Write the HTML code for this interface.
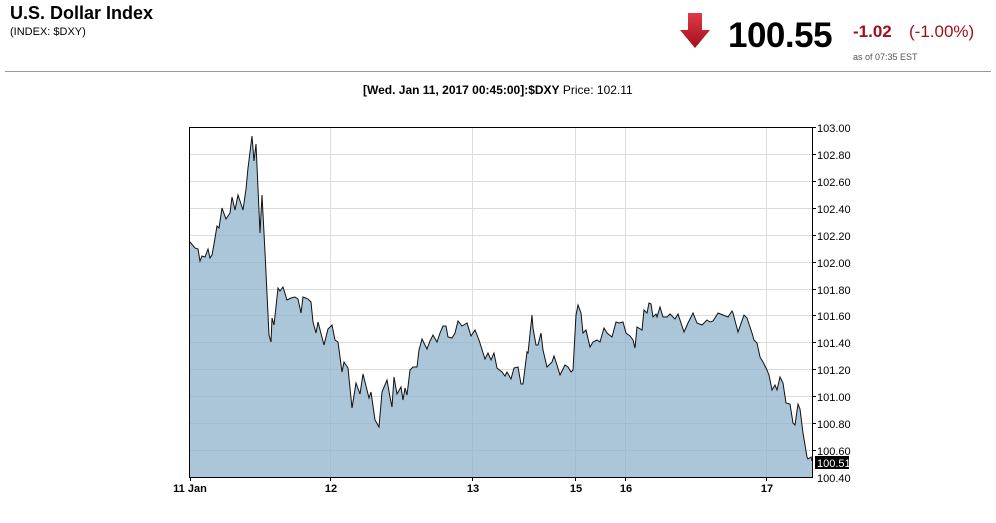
<!DOCTYPE html>
<html><head><meta charset="utf-8"><style>
body{margin:0;background:#fff;font-family:"Liberation Sans",Arial,sans-serif;width:996px;height:523px;overflow:hidden;position:relative}
.a{position:absolute;white-space:nowrap}
</style></head><body>
<div class="a" style="left:10px;top:3px;font-size:18px;font-weight:bold;color:#000">U.S. Dollar Index</div>
<div class="a" style="left:10px;top:26px;font-size:11px;color:#000">(INDEX: $DXY)</div>
<svg class="a" style="left:677px;top:10px" width="36" height="40"><defs><linearGradient id="g" x1="0" x2="0" y1="0" y2="1"><stop offset="0" stop-color="#e0394a"/><stop offset="1" stop-color="#a01018"/></linearGradient></defs><polygon points="11,3 25,3 25,20 33,20 18,38 3,20 11,20" fill="url(#g)"/></svg>
<div class="a" style="left:728px;top:16px;font-size:35px;font-weight:bold;color:#000;letter-spacing:-0.5px">100.55</div>
<div class="a" style="left:853px;top:22px;font-size:17px;font-weight:bold;color:#a0101c">-1.02</div>
<div class="a" style="left:909px;top:22px;font-size:17px;color:#a0101c">(-1.00%)</div>
<div class="a" style="left:853px;top:52px;font-size:9px;color:#555">as of 07:35 EST</div>
<div class="a" style="left:5px;top:71px;width:986px;height:1px;background:#999"></div>
<div class="a" style="left:363px;top:83px;font-size:12px;color:#000"><b>[Wed. Jan 11, 2017 00:45:00]:$DXY</b> Price: 102.11</div>
<svg class="a" style="left:0;top:0" width="996" height="523">
<g stroke="#dcdcdc" stroke-width="1">
<line x1="190" x2="812" y1="154.5" y2="154.5"/><line x1="190" x2="812" y1="181.5" y2="181.5"/><line x1="190" x2="812" y1="208.5" y2="208.5"/><line x1="190" x2="812" y1="235.5" y2="235.5"/><line x1="190" x2="812" y1="262.5" y2="262.5"/><line x1="190" x2="812" y1="289.5" y2="289.5"/><line x1="190" x2="812" y1="315.5" y2="315.5"/><line x1="190" x2="812" y1="342.5" y2="342.5"/><line x1="190" x2="812" y1="369.5" y2="369.5"/><line x1="190" x2="812" y1="396.5" y2="396.5"/><line x1="190" x2="812" y1="423.5" y2="423.5"/><line x1="190" x2="812" y1="450.5" y2="450.5"/>
<line x1="330.5" x2="330.5" y1="127" y2="477"/><line x1="472.5" x2="472.5" y1="127" y2="477"/><line x1="575.5" x2="575.5" y1="127" y2="477"/><line x1="625.5" x2="625.5" y1="127" y2="477"/><line x1="766.5" x2="766.5" y1="127" y2="477"/>
</g>
<polygon fill="#8fb3cc" fill-opacity="0.75" points="190,477 190,242 195,248 198,249 200,261 202,256 205,257 208,249 210,258 212,255 214,244 217,226 219,228 222,208 226,219 230,213 232,197 235,210 238,195 241,204 243,210 246,189 248,168 252,136 254,161 256,144 260,233 262,195 265,252 269,335 271,342 272,318 274,325 278,288 280,291 283,287 287,300 291,298 295,297 298,299 301,313 303,297 308,299 311,302 313,322 316,333 318,322 324,345 328,329 332,325 335,340 338,342 342,372 344,362 348,368 352,408 356,383 360,394 363,374 367,390 369,398 371,392 375,420 379,427 382,392 387,380 390,397 392,407 394,377 397,394 401,387 403,400 405,388 407,395 410,370 413,367 417,367 419,350 422,339 427,349 430,341 433,335 437,342 440,333 443,326 446,326 448,337 452,338 455,333 458,321 462,326 467,323 471,336 475,330 479,340 485,359 488,353 491,360 494,353 497,368 502,372 505,376 507,372 511,379 514,368 518,367 521,384 523,384 527,352 528,353 532,315 533,328 536,345 538,345 541,333 543,350 547,367 552,362 554,356 557,365 560,375 565,365 568,367 571,372 573,370 576,315 578,305 581,313 583,333 586,330 590,347 593,342 597,340 600,342 604,328 607,333 612,337 616,322 619,323 623,322 626,333 630,336 633,340 635,348 637,327 642,330 644,310 647,313 649,303 651,304 653,317 656,314 657,317 660,307 663,317 667,317 670,314 675,319 678,314 684,332 688,323 693,313 697,323 702,325 707,320 710,322 713,321 718,313 723,315 728,317 732,311 733,313 738,332 744,315 747,318 752,333 754,340 757,343 760,357 763,362 767,370 769,375 772,390 775,385 777,390 780,377 783,383 786,403 790,404 793,423 795,425 798,404 800,409 803,433 807,457 808,459 811,457 812,461 812,477"/>
<polyline fill="none" stroke="#111" stroke-width="1" points="190,242 195,248 198,249 200,261 202,256 205,257 208,249 210,258 212,255 214,244 217,226 219,228 222,208 226,219 230,213 232,197 235,210 238,195 241,204 243,210 246,189 248,168 252,136 254,161 256,144 260,233 262,195 265,252 269,335 271,342 272,318 274,325 278,288 280,291 283,287 287,300 291,298 295,297 298,299 301,313 303,297 308,299 311,302 313,322 316,333 318,322 324,345 328,329 332,325 335,340 338,342 342,372 344,362 348,368 352,408 356,383 360,394 363,374 367,390 369,398 371,392 375,420 379,427 382,392 387,380 390,397 392,407 394,377 397,394 401,387 403,400 405,388 407,395 410,370 413,367 417,367 419,350 422,339 427,349 430,341 433,335 437,342 440,333 443,326 446,326 448,337 452,338 455,333 458,321 462,326 467,323 471,336 475,330 479,340 485,359 488,353 491,360 494,353 497,368 502,372 505,376 507,372 511,379 514,368 518,367 521,384 523,384 527,352 528,353 532,315 533,328 536,345 538,345 541,333 543,350 547,367 552,362 554,356 557,365 560,375 565,365 568,367 571,372 573,370 576,315 578,305 581,313 583,333 586,330 590,347 593,342 597,340 600,342 604,328 607,333 612,337 616,322 619,323 623,322 626,333 630,336 633,340 635,348 637,327 642,330 644,310 647,313 649,303 651,304 653,317 656,314 657,317 660,307 663,317 667,317 670,314 675,319 678,314 684,332 688,323 693,313 697,323 702,325 707,320 710,322 713,321 718,313 723,315 728,317 732,311 733,313 738,332 744,315 747,318 752,333 754,340 757,343 760,357 763,362 767,370 769,375 772,390 775,385 777,390 780,377 783,383 786,403 790,404 793,423 795,425 798,404 800,409 803,433 807,457 808,459 811,457 812,461"/>
<rect x="189.5" y="127.5" width="623" height="350" fill="none" stroke="#000" stroke-width="1"/>
<g stroke="#000"><line x1="812" x2="816" y1="127.5" y2="127.5"/><line x1="812" x2="816" y1="154.5" y2="154.5"/><line x1="812" x2="816" y1="181.5" y2="181.5"/><line x1="812" x2="816" y1="208.5" y2="208.5"/><line x1="812" x2="816" y1="235.5" y2="235.5"/><line x1="812" x2="816" y1="262.5" y2="262.5"/><line x1="812" x2="816" y1="289.5" y2="289.5"/><line x1="812" x2="816" y1="315.5" y2="315.5"/><line x1="812" x2="816" y1="342.5" y2="342.5"/><line x1="812" x2="816" y1="369.5" y2="369.5"/><line x1="812" x2="816" y1="396.5" y2="396.5"/><line x1="812" x2="816" y1="423.5" y2="423.5"/><line x1="812" x2="816" y1="450.5" y2="450.5"/>
<line x1="190.5" x2="190.5" y1="477" y2="481"/><line x1="330.5" x2="330.5" y1="477" y2="481"/><line x1="472.5" x2="472.5" y1="477" y2="481"/><line x1="575.5" x2="575.5" y1="477" y2="481"/><line x1="625.5" x2="625.5" y1="477" y2="481"/><line x1="766.5" x2="766.5" y1="477" y2="481"/></g>
<g font-family="Liberation Sans,Arial,sans-serif" font-size="11" fill="#000">
<text x="817" y="132">103.00</text><text x="817" y="159">102.80</text><text x="817" y="186">102.60</text><text x="817" y="213">102.40</text><text x="817" y="240">102.20</text><text x="817" y="267">102.00</text><text x="817" y="294">101.80</text><text x="817" y="320">101.60</text><text x="817" y="347">101.40</text><text x="817" y="374">101.20</text><text x="817" y="401">101.00</text><text x="817" y="428">100.80</text><text x="817" y="455">100.60</text><text x="817" y="482">100.40</text>
<rect x="815" y="456" width="34" height="13" fill="#000"/><text x="817" y="467" fill="#fff">100.51</text>
</g>
<g font-family="Liberation Sans,Arial,sans-serif" font-size="11" font-weight="bold" fill="#000" text-anchor="middle">
<text x="190" y="492">11 Jan</text><text x="331" y="492">12</text><text x="473" y="492">13</text><text x="576" y="492">15</text><text x="626" y="492">16</text><text x="767" y="492">17</text>
</g>
</svg>
</body></html>
